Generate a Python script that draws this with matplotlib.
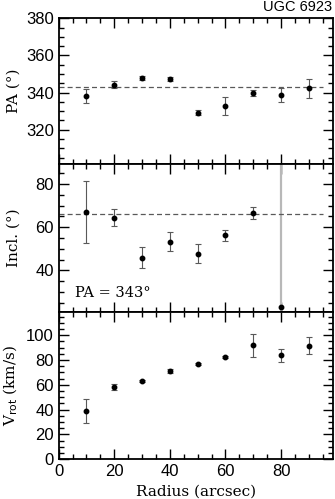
import numpy as np
import matplotlib
matplotlib.use("Agg")
import matplotlib.pyplot as plt
from matplotlib.ticker import MultipleLocator

radius = [10, 20, 30, 40, 50, 60, 70, 80, 90]
pa = [338.1, 344.2, 348.0, 347.4, 329.2, 332.8, 340.0, 338.8, 342.3]
pa_err = [3.7, 2.0, 1.0, 1.0, 1.5, 4.7, 1.6, 3.9, 5.0]
incl_r = [10, 20, 30, 40, 50, 60, 70]
incl = [67.0, 64.5, 45.9, 53.3, 47.7, 56.3, 66.5]
incl_err = [14.3, 3.9, 4.7, 4.3, 4.4, 2.6, 2.7]
incl_out_r = 80
incl_out = 23.1
incl_out_err = 80.0
vrot = [38.7, 58.1, 62.9, 71.0, 76.6, 82.5, 91.9, 83.9, 91.7]
vrot_err = [9.9, 2.4, 1.0, 1.5, 1.0, 1.0, 9.3, 5.2, 7.1]
pa_fix = 343
incl_fix = 66

label_font = "DejaVu Serif"
tick_font = "Liberation Sans"

fig = plt.figure(figsize=(3.35, 4.99), dpi=100)
left, width = 0.175, 0.819
ax1 = fig.add_axes([left, 0.6713, width, 0.2920])
ax2 = fig.add_axes([left, 0.3752, width, 0.2961])
ax3 = fig.add_axes([left, 0.0800, width, 0.2952])

ekw = dict(fmt="o", color="black", ms=3.2, ecolor="0.35", elinewidth=0.8, capsize=2.2, capthick=0.8)

ax1.errorbar(radius, pa, yerr=pa_err, **ekw)
ax1.plot([0, 95], [pa_fix, pa_fix], ls=(0, (4, 2.5)), color="0.35", lw=0.9)
ax1.set_ylim(301.5, 380)
ax1.set_ylabel("PA (°)", family=label_font, fontsize=11)

ax2.errorbar([incl_out_r], [incl_out], yerr=[incl_out_err], fmt="o", color="black", ms=3.2,
             ecolor="0.72", elinewidth=1.6, capsize=0)
ax2.errorbar(incl_r, incl, yerr=incl_err, **ekw)
ax2.plot([0, 95], [incl_fix, incl_fix], ls=(0, (4, 2.5)), color="0.35", lw=0.9)
ax2.set_ylim(20.7, 89.4)
ax2.set_ylabel("Incl. (°)", family=label_font, fontsize=11)
ax2.text(0.06, 0.1, "PA = 343°", transform=ax2.transAxes, family=label_font, fontsize=10.5)

ax3.errorbar(radius, vrot, yerr=vrot_err, **ekw)
ax3.set_ylim(0, 119)
ax3.set_ylabel(r"V$_{\rm rot}$ (km/s)", family=label_font, fontsize=11)
ax3.set_xlabel("Radius (arcsec)", family=label_font, fontsize=11)

for ax in (ax1, ax2, ax3):
    ax.set_xlim(0, 98.7)
    ax.xaxis.set_major_locator(MultipleLocator(20))
    ax.xaxis.set_minor_locator(MultipleLocator(5))
    ax.yaxis.set_major_locator(MultipleLocator(20))
    ax.yaxis.set_minor_locator(MultipleLocator(5))
    ax.tick_params(which="both", direction="in", top=True, right=True, width=1.0)
    ax.tick_params(which="major", length=7.5)
    ax.tick_params(which="minor", length=3.5)
    ax.tick_params(labelsize=12)
    for lab in ax.get_xticklabels() + ax.get_yticklabels():
        lab.set_family(tick_font)
    for s in ax.spines.values():
        s.set_linewidth(1.3)
    ax.yaxis.set_label_coords(-0.14, 0.5)

ax1.tick_params(labelbottom=False)
ax2.tick_params(labelbottom=False)

fig.text(0.99, 0.972, "UGC 6923", ha="right", va="bottom", family=tick_font, fontsize=10.5)

fig.savefig("out.png", dpi=100)
